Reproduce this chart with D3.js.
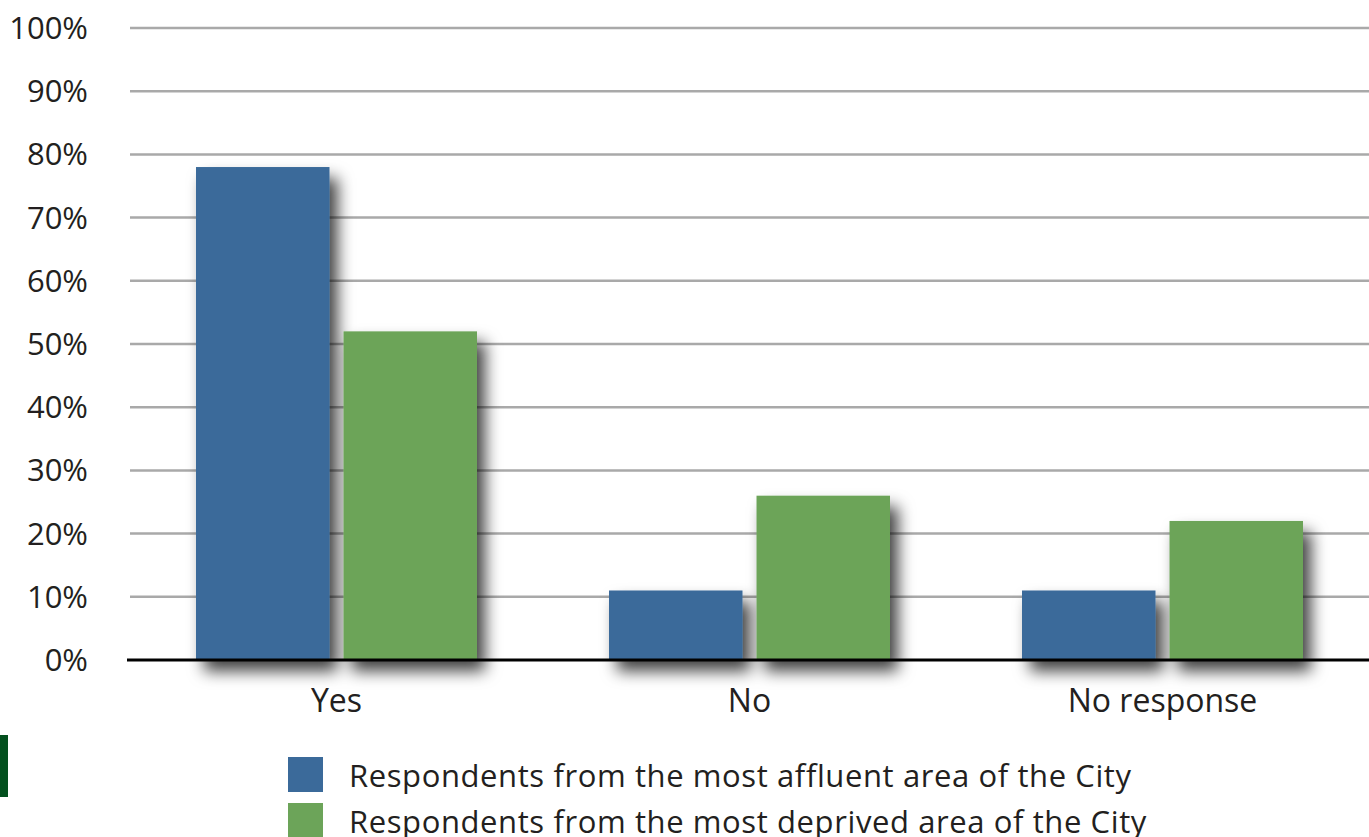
<!DOCTYPE html>
<html><head><meta charset="utf-8">
<script src="https://cdn.jsdelivr.net/npm/d3@7"></script>
<style>body{margin:0;background:#fff}text{font-family:"Open Sans",sans-serif;fill:#231f20}</style>
</head><body><svg id="c" width="1369" height="837"></svg>
<script>
const categories = ["Yes", "No", "No response"];
const seriesNames = ["Respondents from the most affluent area of the City", "Respondents from the most deprived area of the City"];
const affluent = [78, 11, 11];
const deprived = [52, 26, 22];
const yTicks = [0, 10, 20, 30, 40, 50, 60, 70, 80, 90, 100];
const colors = ["#3b6a9a", "#6ca459"];

const svg = d3.select("#c");
const defs = svg.append("defs");
const f = defs.append("filter").attr("id","sh").attr("x","-30%").attr("y","-30%").attr("width","170%").attr("height","170%");
f.append("feDropShadow").attr("dx",8).attr("dy",11).attr("stdDeviation",8).attr("flood-color","#000").attr("flood-opacity",0.75);

const x = d3.scaleBand().domain(categories).range([130, 1369]);
const y = d3.scaleLinear().domain([0, 100]).range([660, 28]);
const inner = d3.scaleBand().domain([0,1]).range([66, 413-66]).paddingInner(0.095);

// grid
svg.append("g").selectAll("line").data(yTicks.filter(d=>d>0)).join("line")
  .attr("x1",130).attr("x2",1369).attr("y1",d=>y(d)).attr("y2",d=>y(d))
  .attr("stroke","#a9a9a9").attr("stroke-width",2.5);

// y labels
svg.append("g").selectAll("text").data(yTicks).join("text")
  .attr("x",88).attr("y",d=>y(d)+11).attr("text-anchor","end")
  .attr("font-size",31).text(d=>d+"%");

const data = [];
categories.forEach((c,i)=>{ data.push({c, s:0, v:affluent[i]}); data.push({c, s:1, v:deprived[i]}); });

svg.append("g").attr("filter","url(#sh)").selectAll("rect").data(data).join("rect")
  .attr("x",d=>x(d.c)+inner(d.s)).attr("width",inner.bandwidth())
  .attr("y",d=>y(d.v)).attr("height",d=>y(0)-y(d.v))
  .attr("fill",d=>colors[d.s]);

// axis line
svg.append("line").attr("x1",127).attr("x2",1369).attr("y1",y(0)).attr("y2",y(0))
  .attr("stroke","#000").attr("stroke-width",3);

// category labels
svg.append("g").selectAll("text").data(categories).join("text")
  .attr("x",d=>x(d)+x.bandwidth()/2).attr("y",712).attr("text-anchor","middle")
  .attr("font-size",32).text(d=>d);

// legend
const lg = svg.append("g");
seriesNames.forEach((n,i)=>{
  lg.append("rect").attr("x",288).attr("y",757+i*46).attr("width",35).attr("height",35).attr("fill",colors[i]);
  lg.append("text").attr("x",349).attr("y",787+i*46).attr("font-size",31).attr("letter-spacing",0.6).text(n);
});

// decorative green bar
svg.append("rect").attr("x",0).attr("y",735).attr("width",8).attr("height",62).attr("fill","#03501e");
</script></body></html>
